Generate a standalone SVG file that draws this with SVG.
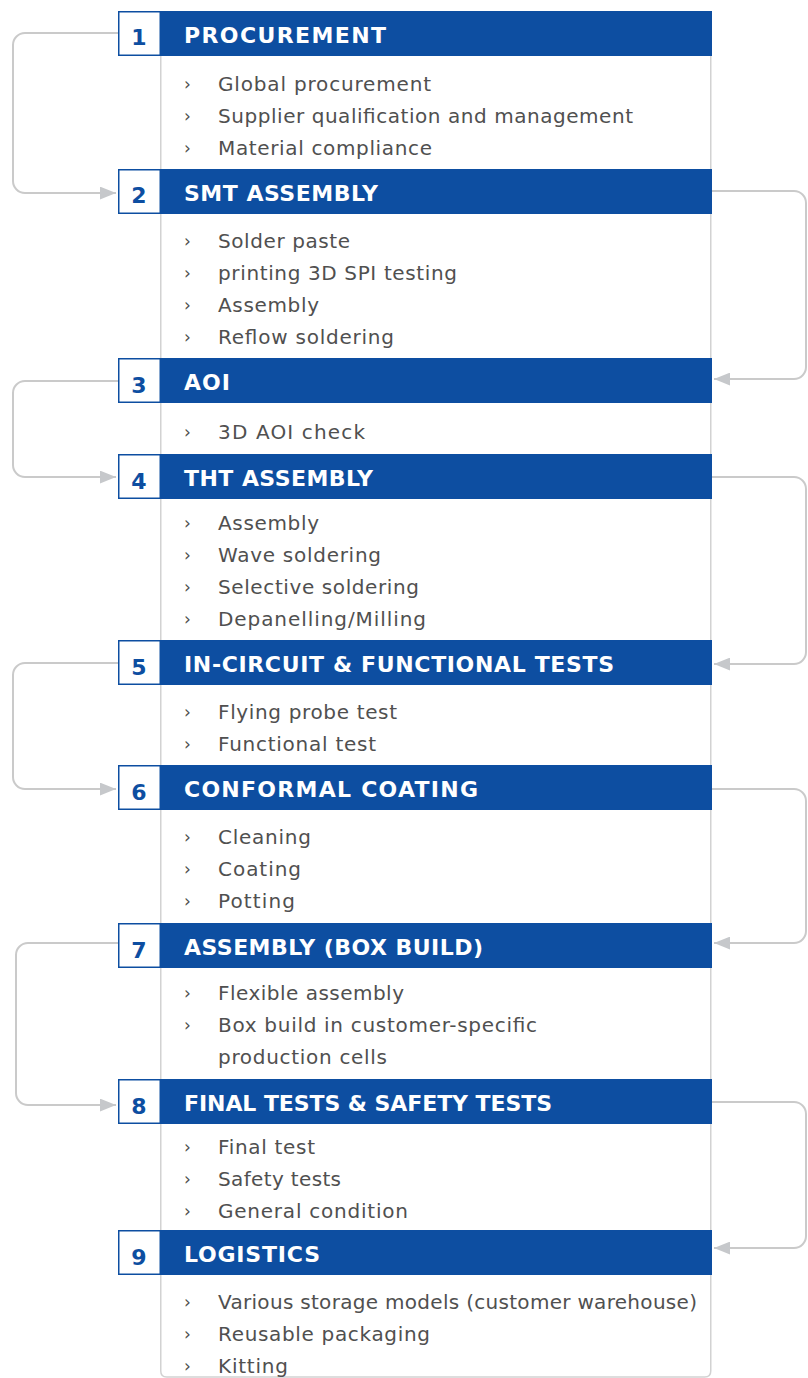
<svg xmlns="http://www.w3.org/2000/svg" width="808" height="1378" viewBox="0 0 808 1378">
<style>
.bar{fill:#0d4ea1}
.num{fill:#fff;stroke:#0d4ea1;stroke-width:1.5}
.nt{font-family:"DejaVu Sans","Liberation Sans",sans-serif;font-weight:bold;font-size:22px;fill:#0d4ea1;text-anchor:middle}
.ht{font-family:"DejaVu Sans","Liberation Sans",sans-serif;font-weight:bold;font-size:22px;fill:#fff}
.bt{font-family:"DejaVu Sans","Liberation Sans",sans-serif;font-size:20px;fill:#505050}
.bl{font-family:"DejaVu Sans","Liberation Sans",sans-serif;font-size:17px;fill:#505050}
.frame{fill:none;stroke:#d2d2d2;stroke-width:1.5}
.con{fill:none;stroke:#cacaca;stroke-width:2}
</style>
<defs>
<marker id="arr" viewBox="0 0 15 12" refX="15" refY="6" markerWidth="16" markerHeight="13" markerUnits="userSpaceOnUse" orient="auto">
<path d="M0,0 L15,6 L0,12 z" fill="#c6c8cb"/>
</marker>
</defs>
<path class="frame" d="M160.75,11 V1371 Q160.75,1377 166.75,1377 H704.75 Q710.75,1377 710.75,1371 V11"/>
<g id="connectors">
<path class="con" marker-end="url(#arr)" d="M118,33 H25 A12,12 0 0 0 13,45 V181 A12,12 0 0 0 25,193 H116"/>
<path class="con" marker-end="url(#arr)" d="M118,381 H25 A12,12 0 0 0 13,393 V465 A12,12 0 0 0 25,477 H116"/>
<path class="con" marker-end="url(#arr)" d="M118,663 H25 A12,12 0 0 0 13,675 V777 A12,12 0 0 0 25,789 H116"/>
<path class="con" marker-end="url(#arr)" d="M118,943 H28 A12,12 0 0 0 16,955 V1093 A12,12 0 0 0 28,1105 H116"/>
<path class="con" marker-end="url(#arr)" d="M712,191 H794 A12,12 0 0 1 806,203 V367 A12,12 0 0 1 794,379 H714"/>
<path class="con" marker-end="url(#arr)" d="M712,477 H794 A12,12 0 0 1 806,489 V652 A12,12 0 0 1 794,664 H714"/>
<path class="con" marker-end="url(#arr)" d="M712,789 H794 A12,12 0 0 1 806,801 V931 A12,12 0 0 1 794,943 H714"/>
<path class="con" marker-end="url(#arr)" d="M712,1102 H794 A12,12 0 0 1 806,1114 V1236 A12,12 0 0 1 794,1248 H714"/>
</g>
<g id="node1">
<rect class="bar" x="160" y="11" width="552" height="45"/>
<rect class="num" x="118.75" y="11.75" width="41.5" height="43.5"/>
<text class="nt" x="139" y="45">1</text>
<text class="ht" x="184" y="42.5" textLength="202" lengthAdjust="spacing">PROCUREMENT</text>
<text class="bl" x="184" y="90">›</text><text class="bt" x="218" y="91" textLength="213" lengthAdjust="spacing">Global procurement</text>
<text class="bl" x="184" y="122">›</text><text class="bt" x="218" y="123" textLength="415" lengthAdjust="spacing">Supplier qualification and management</text>
<text class="bl" x="184" y="154">›</text><text class="bt" x="218" y="155" textLength="214" lengthAdjust="spacing">Material compliance</text>
</g>
<g id="node2">
<rect class="bar" x="160" y="169" width="552" height="45"/>
<rect class="num" x="118.75" y="169.75" width="41.5" height="43.5"/>
<text class="nt" x="139" y="203">2</text>
<text class="ht" x="184" y="200.5" textLength="194" lengthAdjust="spacing">SMT ASSEMBLY</text>
<text class="bl" x="184" y="247">›</text><text class="bt" x="218" y="248" textLength="132" lengthAdjust="spacing">Solder paste</text>
<text class="bl" x="184" y="279">›</text><text class="bt" x="218" y="280" textLength="239" lengthAdjust="spacing">printing 3D SPI testing</text>
<text class="bl" x="184" y="311">›</text><text class="bt" x="218" y="312" textLength="101" lengthAdjust="spacing">Assembly</text>
<text class="bl" x="184" y="343">›</text><text class="bt" x="218" y="344" textLength="176" lengthAdjust="spacing">Reflow soldering</text>
</g>
<g id="node3">
<rect class="bar" x="160" y="358" width="552" height="45"/>
<rect class="num" x="118.75" y="358.75" width="41.5" height="43.5"/>
<text class="nt" x="139" y="392.5">3</text>
<text class="ht" x="184" y="389.5" textLength="46" lengthAdjust="spacing">AOI</text>
<text class="bl" x="184" y="438">›</text><text class="bt" x="218" y="439" textLength="147" lengthAdjust="spacing">3D AOI check</text>
</g>
<g id="node4">
<rect class="bar" x="160" y="454" width="552" height="45"/>
<rect class="num" x="118.75" y="454.75" width="41.5" height="43.5"/>
<text class="nt" x="139" y="488.5">4</text>
<text class="ht" x="184" y="485.5" textLength="189" lengthAdjust="spacing">THT ASSEMBLY</text>
<text class="bl" x="184" y="529">›</text><text class="bt" x="218" y="530" textLength="101" lengthAdjust="spacing">Assembly</text>
<text class="bl" x="184" y="561">›</text><text class="bt" x="218" y="562" textLength="163" lengthAdjust="spacing">Wave soldering</text>
<text class="bl" x="184" y="593">›</text><text class="bt" x="218" y="594" textLength="201" lengthAdjust="spacing">Selective soldering</text>
<text class="bl" x="184" y="625">›</text><text class="bt" x="218" y="626" textLength="208" lengthAdjust="spacing">Depanelling/Milling</text>
</g>
<g id="node5">
<rect class="bar" x="160" y="640" width="552" height="45"/>
<rect class="num" x="118.75" y="640.75" width="41.5" height="43.5"/>
<text class="nt" x="139" y="674.5">5</text>
<text class="ht" x="184" y="671.5" textLength="430" lengthAdjust="spacing">IN-CIRCUIT &amp; FUNCTIONAL TESTS</text>
<text class="bl" x="184" y="718">›</text><text class="bt" x="218" y="719" textLength="179" lengthAdjust="spacing">Flying probe test</text>
<text class="bl" x="184" y="750">›</text><text class="bt" x="218" y="751" textLength="158" lengthAdjust="spacing">Functional test</text>
</g>
<g id="node6">
<rect class="bar" x="160" y="765" width="552" height="45"/>
<rect class="num" x="118.75" y="765.75" width="41.5" height="43.5"/>
<text class="nt" x="139" y="799.5">6</text>
<text class="ht" x="184" y="796.5" textLength="294" lengthAdjust="spacing">CONFORMAL COATING</text>
<text class="bl" x="184" y="843">›</text><text class="bt" x="218" y="844" textLength="93" lengthAdjust="spacing">Cleaning</text>
<text class="bl" x="184" y="875">›</text><text class="bt" x="218" y="876" textLength="83" lengthAdjust="spacing">Coating</text>
<text class="bl" x="184" y="907">›</text><text class="bt" x="218" y="908" textLength="77" lengthAdjust="spacing">Potting</text>
</g>
<g id="node7">
<rect class="bar" x="160" y="923" width="552" height="45"/>
<rect class="num" x="118.75" y="923.75" width="41.5" height="43.5"/>
<text class="nt" x="139" y="957.5">7</text>
<text class="ht" x="184" y="954.5" textLength="299" lengthAdjust="spacing">ASSEMBLY (BOX BUILD)</text>
<text class="bl" x="184" y="999">›</text><text class="bt" x="218" y="1000" textLength="186" lengthAdjust="spacing">Flexible assembly</text>
<text class="bl" x="184" y="1031">›</text><text class="bt" x="218" y="1032" textLength="319" lengthAdjust="spacing">Box build in customer-specific</text>
<text class="bt" x="218" y="1064" textLength="169" lengthAdjust="spacing">production cells</text>
</g>
<g id="node8">
<rect class="bar" x="160" y="1079" width="552" height="45"/>
<rect class="num" x="118.75" y="1079.75" width="41.5" height="43.5"/>
<text class="nt" x="139" y="1113.5">8</text>
<text class="ht" x="184" y="1110.5" textLength="368" lengthAdjust="spacing">FINAL TESTS &amp; SAFETY TESTS</text>
<text class="bl" x="184" y="1153">›</text><text class="bt" x="218" y="1154" textLength="97" lengthAdjust="spacing">Final test</text>
<text class="bl" x="184" y="1185">›</text><text class="bt" x="218" y="1186" textLength="123" lengthAdjust="spacing">Safety tests</text>
<text class="bl" x="184" y="1217">›</text><text class="bt" x="218" y="1218" textLength="190" lengthAdjust="spacing">General condition</text>
</g>
<g id="node9">
<rect class="bar" x="160" y="1230" width="552" height="45"/>
<rect class="num" x="118.75" y="1230.75" width="41.5" height="43.5"/>
<text class="nt" x="139" y="1264.5">9</text>
<text class="ht" x="184" y="1261.5" textLength="136" lengthAdjust="spacing">LOGISTICS</text>
<text class="bl" x="184" y="1308">›</text><text class="bt" x="218" y="1309" textLength="479" lengthAdjust="spacing">Various storage models (customer warehouse)</text>
<text class="bl" x="184" y="1340">›</text><text class="bt" x="218" y="1341" textLength="212" lengthAdjust="spacing">Reusable packaging</text>
<text class="bl" x="184" y="1372">›</text><text class="bt" x="218" y="1373" textLength="70" lengthAdjust="spacing">Kitting</text>
</g>
</svg>
